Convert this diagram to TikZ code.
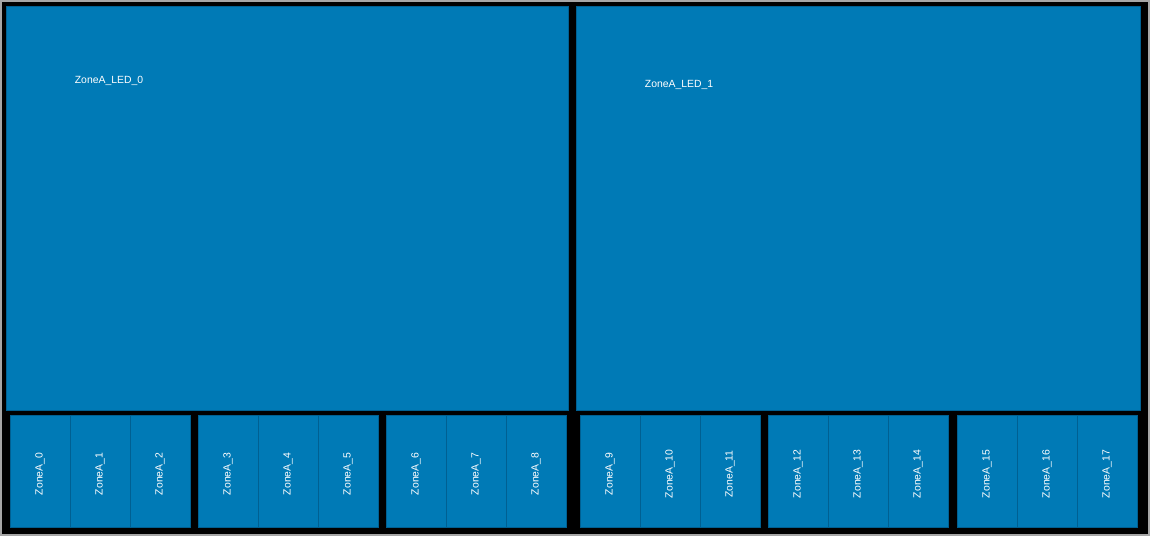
\documentclass[tikz,border=0pt]{standalone}
\usepackage{fontspec}
\setmainfont{Liberation Sans}
\usepackage{tikz}
\usepackage{xcolor}
\usetikzlibrary{positioning}

\definecolor{zonefill}{RGB}{0,122,182}
\definecolor{zoneedge}{RGB}{0,96,146}

\tikzset{
  ledbox/.style={draw=zoneedge, line width=1pt, fill=zonefill, inner sep=0pt},
  groupbox/.style={draw=zoneedge, line width=1pt, fill=zonefill, inner sep=0pt,
    minimum width=180pt, minimum height=112pt},
  cellbox/.style={draw=zoneedge, line width=0.7pt, fill=zonefill, inner sep=0pt,
    minimum width=60pt, minimum height=112pt},
  zonelabel/.style={rotate=90, text=white, inner sep=0pt,
    font=\fontsize{10.4}{12}\selectfont},
  ledlabel/.style={text=white, font=\fontsize{10.4}{12}\selectfont, inner sep=0pt}
}

\begin{document}
\begin{tikzpicture}[x=1pt,y=-1pt]
% frame
\fill[black] (0,0) rectangle (1150,536);
\draw[gray!70, line width=2pt] (1,1) rectangle (1149,535);
\useasboundingbox (0,0) rectangle (1150,536);

% large LED areas
\node[ledbox, minimum width=562pt, minimum height=404pt] (led0) at (287,208) {};
\node[ledbox, minimum width=564pt, minimum height=404pt] (led1) at (858,208) {};
\node[ledlabel] (led0lbl) at (109,80.5) {ZoneA\_LED\_0};
\node[ledlabel] (led1lbl) at (679,84.5) {ZoneA\_LED\_1};

% zone groups of three
\foreach \g/\gx in {0/10,1/198,2/386,3/580,4/768,5/957} {
  \node[groupbox] (grp\g) at (\gx+90,471.5) {};
  \foreach \c in {0,1,2} {
    \pgfmathtruncatemacro{\n}{3*\g+\c}
    \node[cellbox] (cell\n) at (\gx+30+60*\c,471.5) {};
    \node[zonelabel] (zone\n) at (\gx+30+60*\c,474) {ZoneA\_\n};
  }
}
\end{tikzpicture}
\end{document}
